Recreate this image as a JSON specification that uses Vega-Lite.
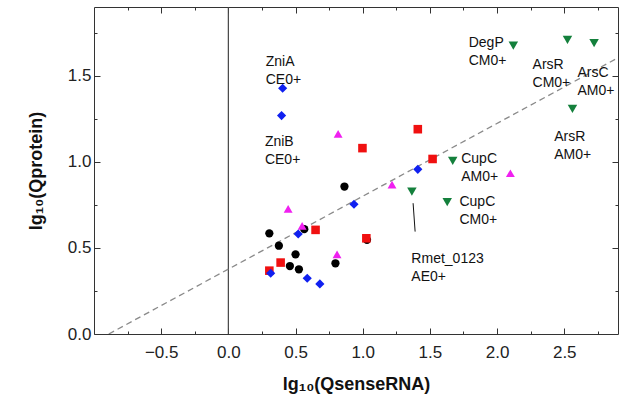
{
  "$schema": "https://vega.github.io/schema/vega-lite/v6.json",
  "autosize": {"type": "none"},
  "padding": {"left": 94, "top": 7, "right": 6, "bottom": 74},
  "width": 524,
  "height": 327,
  "config": {
    "font": "Liberation Sans",
    "view": {"stroke": "#333", "strokeWidth": 1},
    "axis": {"grid": false, "domain": false, "tickColor": "#333", "tickWidth": 1, "labelColor": "#222", "labelFontSize": 17, "labelFont": "Liberation Sans", "titleFont": "Liberation Sans", "titleFontSize": 18, "titleFontWeight": "bold", "titleColor": "#111"}
  },
  "datasets": {
    "points": [
      {"group": "G1", "x": 0.864, "y": 0.857},
      {"group": "G1", "x": 0.305, "y": 0.585},
      {"group": "G1", "x": 0.376, "y": 0.513},
      {"group": "G1", "x": 0.5, "y": 0.463},
      {"group": "G1", "x": 0.458, "y": 0.395},
      {"group": "G1", "x": 0.525, "y": 0.376},
      {"group": "G1", "x": 0.797, "y": 0.411},
      {"group": "G1", "x": 0.565, "y": 0.609},
      {"group": "G1", "x": 1.032, "y": 0.547},
      {"group": "G2", "x": 0.649, "y": 0.605},
      {"group": "G2", "x": 0.389, "y": 0.415},
      {"group": "G2", "x": 0.305, "y": 0.368},
      {"group": "G2", "x": 1.027, "y": 0.556},
      {"group": "G2", "x": 1.52, "y": 1.017},
      {"group": "G2", "x": 1.41, "y": 1.19},
      {"group": "G2", "x": 0.998, "y": 1.08},
      {"group": "G3", "x": 0.445, "y": 0.727},
      {"group": "G3", "x": 0.549, "y": 0.628},
      {"group": "G3", "x": 0.809, "y": 0.463},
      {"group": "G3", "x": 1.218, "y": 0.868},
      {"group": "G3", "x": 0.817, "y": 1.163},
      {"group": "G3", "x": 2.099, "y": 0.934},
      {"group": "G4", "x": 0.315, "y": 0.353},
      {"group": "G4", "x": 0.52, "y": 0.581},
      {"group": "G4", "x": 0.587, "y": 0.324},
      {"group": "G4", "x": 0.681, "y": 0.291},
      {"group": "G4", "x": 0.935, "y": 0.754},
      {"group": "G4", "x": 1.41, "y": 0.957},
      {"group": "G4", "x": 0.404, "y": 1.428},
      {"group": "G4", "x": 0.396, "y": 1.269},
      {"group": "G5", "x": 1.366, "y": 0.827},
      {"group": "G5", "x": 1.629, "y": 0.766},
      {"group": "G5", "x": 1.67, "y": 1.006},
      {"group": "G5", "x": 2.121, "y": 1.676},
      {"group": "G5", "x": 2.524, "y": 1.709},
      {"group": "G5", "x": 2.722, "y": 1.69},
      {"group": "G5", "x": 2.561, "y": 1.308}
    ],
    "labels": [
      {"label": "ZniA\nCE0+", "x": 0.278, "y": 1.581},
      {"label": "ZniB\nCE0+", "x": 0.272, "y": 1.116},
      {"label": "DegP\nCM0+", "x": 1.789, "y": 1.693},
      {"label": "ArsR\nCM0+", "x": 2.264, "y": 1.562},
      {"label": "ArsC\nAM0+", "x": 2.598, "y": 1.515},
      {"label": "ArsR\nAM0+", "x": 2.425, "y": 1.147},
      {"label": "CupC\nAM0+", "x": 1.733, "y": 1.017},
      {"label": "CupC\nCM0+", "x": 1.72, "y": 0.767},
      {"label": "Rmet_0123\nAE0+", "x": 1.362, "y": 0.436}
    ],
    "fit": [{"x": -0.89, "y": 0, "x2": 2.9, "y2": 1.605}],
    "zero": [{"x": 0}],
    "leader": [{"x": 1.375, "y": 0.76, "x2": 1.39, "y2": 0.595}]
  },
  "resolve": {"axis": {"x": "independent", "y": "independent"}},
  "layer": [
    {
      "data": {"name": "zero"},
      "mark": {"type": "rule", "color": "#444", "strokeWidth": 1.2},
      "encoding": {
        "x": {"field": "x", "type": "quantitative", "scale": {"domain": [-1, 2.9], "nice": false, "zero": false},
          "axis": {"orient": "top", "labels": false, "title": null, "values": [-0.75, -0.5, -0.25, 0, 0.25, 0.5, 0.75, 1, 1.25, 1.5, 1.75, 2, 2.25, 2.5, 2.75],
            "tickSize": {"condition": {"test": "datum.value % 0.5 == 0", "value": -6}, "value": -3}}}
      }
    },
    {
      "data": {"name": "fit"},
      "mark": {"type": "rule", "color": "#8a8a8a", "strokeWidth": 1.3, "strokeDash": [6, 4], "clip": true},
      "encoding": {
        "x": {"field": "x", "type": "quantitative", "scale": {"domain": [-1, 2.9], "nice": false, "zero": false}, "axis": null},
        "y": {"field": "y", "type": "quantitative", "scale": {"domain": [0, 1.9], "nice": false, "zero": false},
          "axis": {"orient": "right", "labels": false, "title": null, "values": [0.25, 0.5, 0.75, 1, 1.25, 1.5, 1.75],
            "tickSize": {"condition": {"test": "datum.value % 0.5 == 0", "value": -6}, "value": -3}}},
        "x2": {"field": "x2"},
        "y2": {"field": "y2"}
      }
    },
    {
      "data": {"name": "leader"},
      "mark": {"type": "rule", "color": "#111", "strokeWidth": 1},
      "encoding": {
        "x": {"field": "x", "type": "quantitative", "scale": {"domain": [-1, 2.9], "nice": false, "zero": false}, "axis": null},
        "y": {"field": "y", "type": "quantitative", "scale": {"domain": [0, 1.9], "nice": false, "zero": false}, "axis": null},
        "x2": {"field": "x2"},
        "y2": {"field": "y2"}
      }
    },
    {
      "data": {"name": "points"},
      "mark": {"type": "point", "filled": true, "opacity": 1},
      "encoding": {
        "x": {"field": "x", "type": "quantitative", "scale": {"domain": [-1, 2.9], "nice": false, "zero": false},
          "axis": {"orient": "bottom", "title": "lg₁₀(QsenseRNA)", "titlePadding": 15,
            "values": [-0.75, -0.5, -0.25, 0, 0.25, 0.5, 0.75, 1, 1.25, 1.5, 1.75, 2, 2.25, 2.5, 2.75],
            "labelExpr": "datum.value % 0.5 == 0 ? format(datum.value, '.1f') : ''",
            "labelPadding": 16,
            "tickSize": {"condition": {"test": "datum.value % 0.5 == 0", "value": -6}, "value": -3}}},
        "y": {"field": "y", "type": "quantitative", "scale": {"domain": [0, 1.9], "nice": false, "zero": false},
          "axis": {"orient": "left", "title": "lg₁₀(Qprotein)", "titlePadding": 22,
            "values": [0, 0.25, 0.5, 0.75, 1, 1.25, 1.5, 1.75],
            "labelExpr": "datum.value % 0.5 == 0 ? format(datum.value, '.1f') : ''",
            "labelPadding": 9,
            "tickSize": {"condition": {"test": "datum.value % 0.5 == 0", "value": -6}, "value": -3}}},
        "shape": {"field": "group", "type": "nominal", "legend": null,
          "scale": {"domain": ["G1", "G2", "G3", "G4", "G5"], "range": ["circle", "square", "triangle-up", "diamond", "triangle-down"]}},
        "color": {"field": "group", "type": "nominal", "legend": null,
          "scale": {"domain": ["G1", "G2", "G3", "G4", "G5"], "range": ["#000000", "#f01010", "#f020f0", "#1020f0", "#14803c"]}},
        "size": {"field": "group", "type": "nominal", "legend": null,
          "scale": {"domain": ["G1", "G2", "G3", "G4", "G5"], "range": [68, 90, 135, 140, 155]}}
      }
    },
    {
      "data": {"name": "labels"},
      "mark": {"type": "text", "align": "left", "baseline": "middle", "fontSize": 14, "lineBreak": "\n", "lineHeight": 18, "color": "#111"},
      "encoding": {
        "x": {"field": "x", "type": "quantitative", "scale": {"domain": [-1, 2.9], "nice": false, "zero": false}, "axis": null},
        "y": {"field": "y", "type": "quantitative", "scale": {"domain": [0, 1.9], "nice": false, "zero": false}, "axis": null},
        "text": {"field": "label"}
      }
    }
  ]
}
